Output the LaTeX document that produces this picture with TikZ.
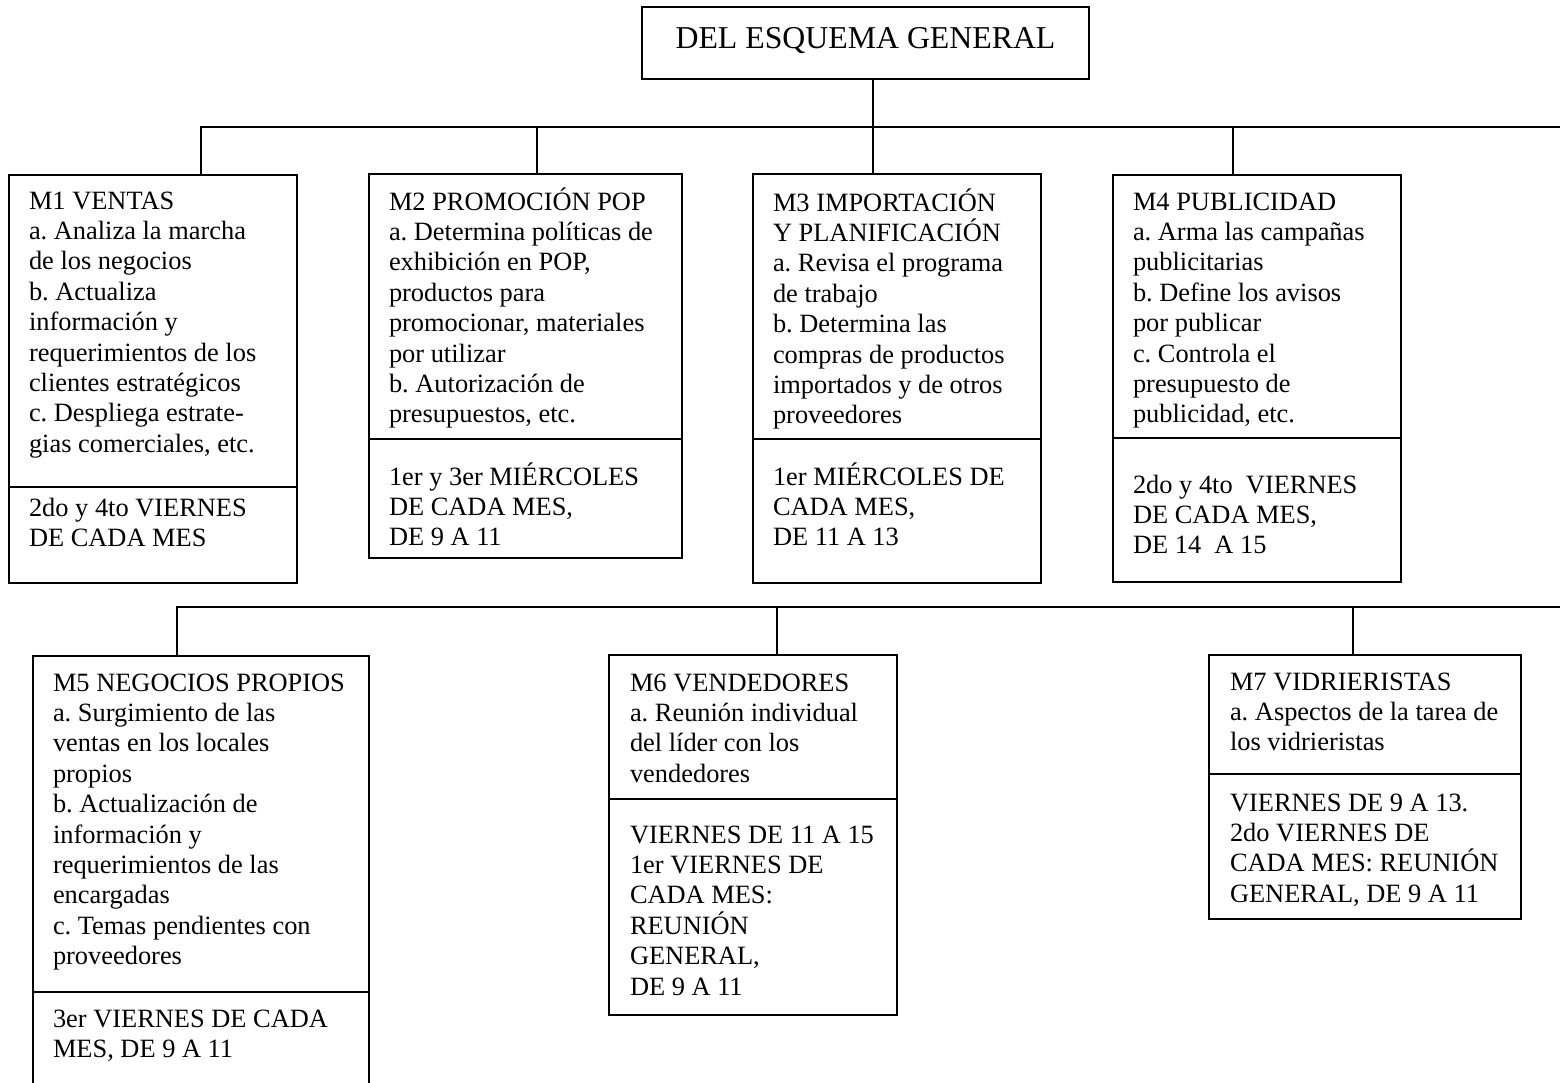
\documentclass[tikz,border=0pt]{standalone}
\usepackage{fontspec}
\setmainfont{Liberation Serif}
\newcommand\boxfont{\fontsize{26.4}{30.4}\selectfont\frenchspacing\lineskiplimit=-20pt\relax}
\newcommand\titlefont{\fontsize{31.8}{36}\selectfont}
\newcommand\fl{\rule{0pt}{25pt}}
\begin{document}
\frenchspacing
\begin{tikzpicture}[x=1pt,y=-1pt,
  frame/.style={draw, line width=1.8pt, inner sep=0pt, outer sep=0pt, anchor=north west},
  rulel/.style={line width=1.8pt},
  link/.style={line width=1.8pt},
  txt/.style={anchor=north west, inner sep=0pt, outer sep=0pt, align=left, font=\boxfont},
]
\useasboundingbox (0,0) rectangle (1560,1083);
\clip (0,0) rectangle (1560,1083);

% title
\node[frame, minimum width=447pt, minimum height=72pt] (top) at (642,7) {};
\node[anchor=base, inner sep=0pt, font=\titlefont] (toptxt) at (865.5,49) {DEL ESQUEMA GENERAL};

% first row boxes
\node[frame, minimum width=288pt, minimum height=408pt] (m1) at (9,175) {};
\node[frame, minimum width=313pt, minimum height=384pt] (m2) at (369,174) {};
\node[frame, minimum width=288pt, minimum height=409pt] (m3) at (753,174) {};
\node[frame, minimum width=288pt, minimum height=407pt] (m4) at (1113,175) {};
\draw[rulel] (9,487) -- (297,487);
\draw[rulel] (369,439) -- (682,439);
\draw[rulel] (753,439) -- (1041,439);
\draw[rulel] (1113,438) -- (1401,438);

% second row boxes
\node[frame, minimum width=336pt, minimum height=450pt] (m5) at (33,656) {};
\node[frame, minimum width=288pt, minimum height=360pt] (m6) at (609,655) {};
\node[frame, minimum width=312pt, minimum height=264pt] (m7) at (1209,655) {};
\draw[rulel] (33,992) -- (369,992);
\draw[rulel] (609,799) -- (897,799);
\draw[rulel] (1209,774) -- (1521,774);

% texts
\node[txt] (t1) at (29,184) {\fl M1 VENTAS\\a. Analiza la marcha\\de los negocios\\b. Actualiza\\información y\\requerimientos de los\\clientes estratégicos\\c. Despliega estrate-\\gias comerciales, etc.};
\node[txt] (s1) at (29,491) {\fl 2do y 4to VIERNES\\DE CADA MES};
\node[txt] (t2) at (389,185) {\fl M2 PROMOCIÓN POP\\a. Determina políticas de\\exhibición en POP,\\productos para\\promocionar, materiales\\por utilizar\\b. Autorización de\\presupuestos, etc.};
\node[txt] (s2) at (389,460) {\fl 1er y 3er MIÉRCOLES\\DE CADA MES,\\DE 9 A 11};
\node[txt] (t3) at (773,186) {\fl M3 IMPORTACIÓN\\Y PLANIFICACIÓN\\a. Revisa el programa\\de trabajo\\b. Determina las\\compras de productos\\importados y de otros\\proveedores};
\node[txt] (s3) at (773,460) {\fl 1er MIÉRCOLES DE\\CADA MES,\\DE 11 A 13};
\node[txt] (t4) at (1133,185) {\fl M4 PUBLICIDAD\\a. Arma las campañas\\publicitarias\\b. Define los avisos\\por publicar\\c. Controla el\\presupuesto de\\publicidad, etc.};
\node[txt] (s4) at (1133,468) {\fl 2do y 4to\ \ VIERNES\\DE CADA MES,\\DE 14\ \ A 15};
\node[txt] (t5) at (53,666) {\fl M5 NEGOCIOS PROPIOS\\a. Surgimiento de las\\ventas en los locales\\propios\\b. Actualización de\\información y\\requerimientos de las\\encargadas\\c. Temas pendientes con\\proveedores};
\node[txt] (s5) at (53,1002) {\fl 3er VIERNES DE CADA\\MES, DE 9 A 11};
\node[txt] (t6) at (630,666) {\fl M6 VENDEDORES\\a. Reunión individual\\del líder con los\\vendedores};
\node[txt] (s6) at (630,818) {\fl VIERNES DE 11 A 15\\1er VIERNES DE\\CADA MES:\\REUNIÓN\\GENERAL,\\DE 9 A 11};
\node[txt] (t7) at (1230,665) {\fl M7 VIDRIERISTAS\\a. Aspectos de la tarea de\\los vidrieristas};
\node[txt] (s7) at (1230,786) {\fl VIERNES DE 9 A 13.\\2do VIERNES DE\\CADA MES: REUNIÓN\\GENERAL, DE 9 A 11};

% connectors, first level
\coordinate (j1) at (201,127);
\coordinate (j2) at (537,127);
\coordinate (j3) at (873,127);
\coordinate (j4) at (1233,127);
\coordinate (bus1end) at (1562,127);
\draw[link] (top.south -| j3) -- (j3);
\draw[link] (j1 |- m1.north) -- (j1) -- (bus1end);
\draw[link] (j2) -- (j2 |- m2.north);
\draw[link] (j3) -- (j3 |- m3.north);
\draw[link] (j4) -- (j4 |- m4.north);

% connectors, second level
\coordinate (k5) at (177,607);
\coordinate (k6) at (777,607);
\coordinate (k7) at (1353,607);
\coordinate (bus2end) at (1562,607);
\draw[link] (k5 |- m5.north) -- (k5) -- (bus2end);
\draw[link] (k6) -- (k6 |- m6.north);
\draw[link] (k7) -- (k7 |- m7.north);
\end{tikzpicture}
\end{document}
